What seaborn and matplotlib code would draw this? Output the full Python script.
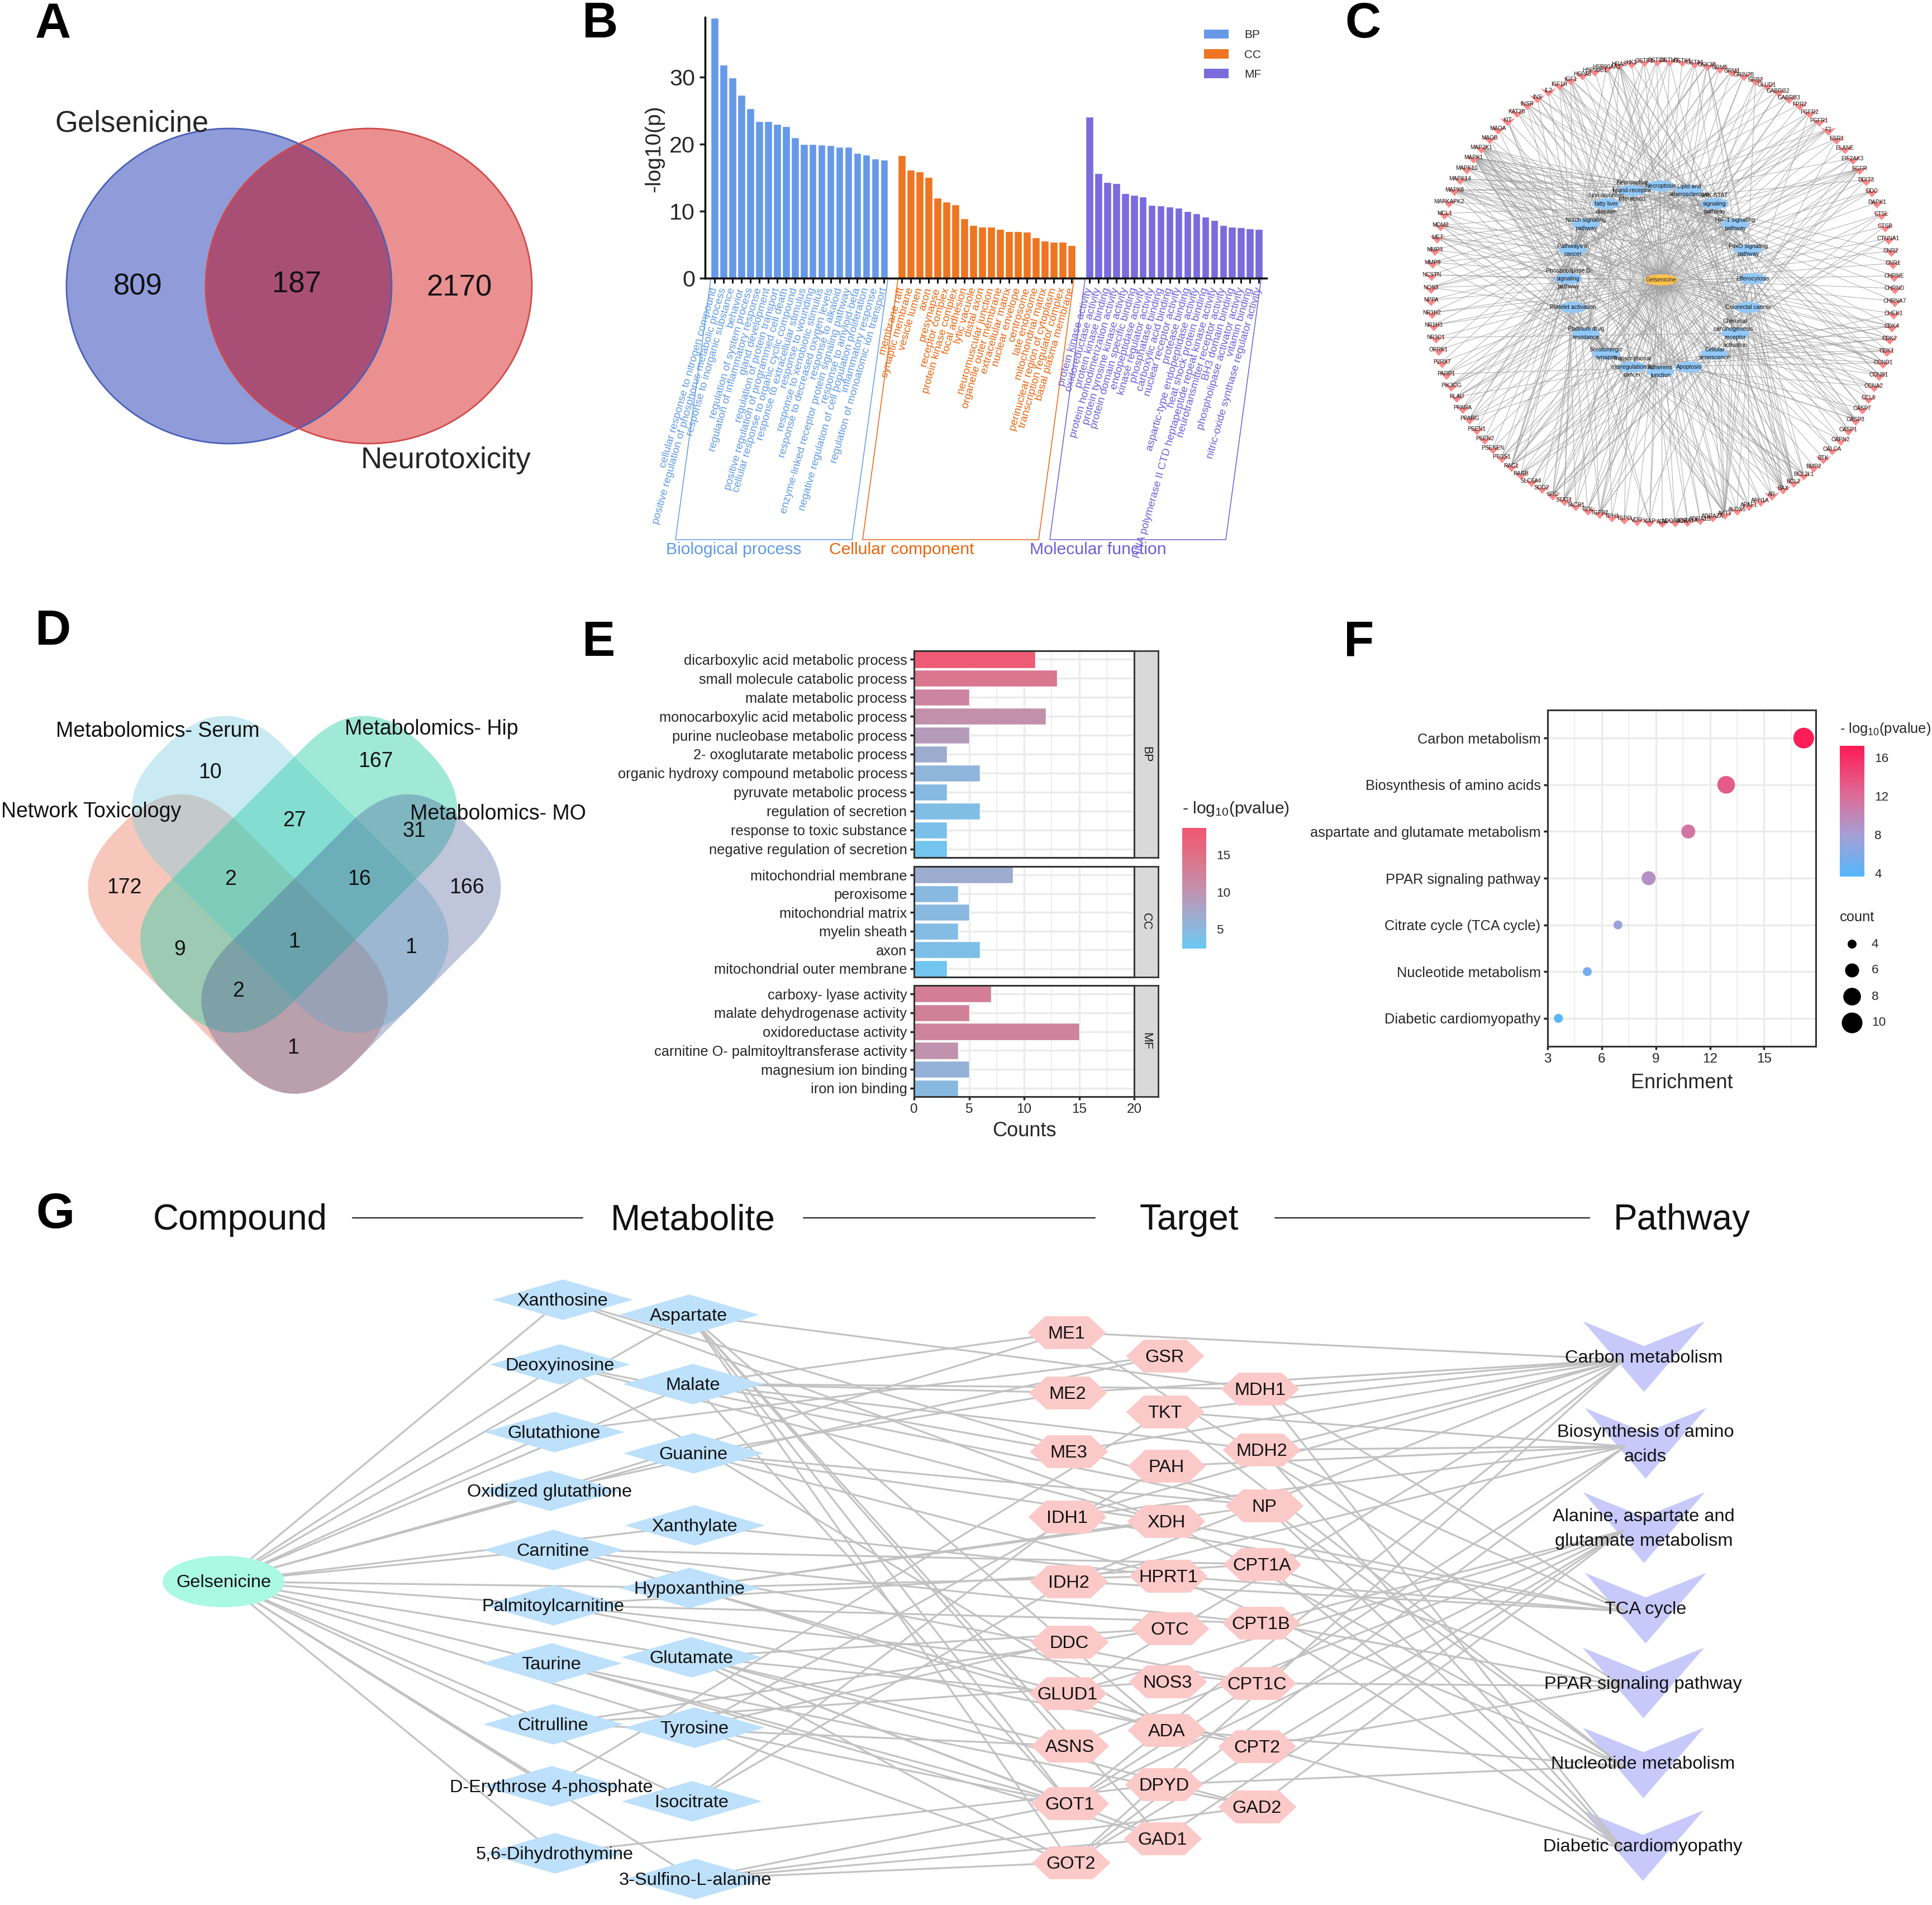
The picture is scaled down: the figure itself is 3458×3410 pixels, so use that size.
import numpy as np
import pandas as pd
import matplotlib
matplotlib.use("Agg")
import matplotlib.pyplot as plt
import seaborn as sns
from matplotlib.cm import ScalarMappable
from matplotlib.collections import LineCollection
from matplotlib.colors import LinearSegmentedColormap, Normalize
from matplotlib.patches import Ellipse, FancyBboxPatch, Patch
from matplotlib.path import Path
from matplotlib.ticker import MultipleLocator
from matplotlib.transforms import Affine2D

W, H = 3458, 3410

# panel A
VENN_A_COUNTS = ["809", "187", "2170"]

# panel B
BP_TERMS = ["cellular response to nitrogen compound", "positive regulation of phosphorus metabolic process",
            "response to inorganic substance", "behavior", "regulation of system process",
            "regulation of inflammatory response", "gland development", "regulation of protein transport",
            "positive regulation of programmed cell death", "cellular response to organic cyclic compound",
            "response to extracellular stimulus", "response to wounding", "response to xenobiotic stimulus",
            "response to decreased oxygen levels", "response to alkaloid",
            "enzyme-linked receptor protein signaling pathway", "response to amyloid-beta",
            "negative regulation of cell population proliferation", "inflammatory response",
            "regulation of monoatomic ion transport"]
BP_VALUES = [38.8, 31.8, 29.9, 27.3, 25.3, 23.4, 23.4, 23.0, 22.7, 21.0,
             20.0, 20.0, 19.9, 19.8, 19.6, 19.6, 18.7, 18.4, 17.8, 17.7]
CC_TERMS = ["membrane raft", "synaptic membrane", "vesicle lumen", "axon", "presynapse", "receptor complex",
            "protein kinase complex", "focal adhesion", "lytic vacuole", "distal axon", "neuromuscular junction",
            "organelle outer membrane", "extracellular matrix", "nuclear envelope", "centrosome", "late endosome",
            "mitochondrial matrix", "perinuclear region of cytoplasm", "transcription regulator complex",
            "basal plasma membrane"]
CC_VALUES = [18.3, 16.2, 15.9, 15.1, 12.0, 11.4, 11.0, 8.9, 7.9, 7.7,
             7.7, 7.3, 7.0, 7.0, 6.9, 6.1, 5.6, 5.4, 5.4, 4.9]
MF_TERMS = ["protein kinase activity", "oxidoreductase activity", "protein kinase binding",
            "protein homodimerization activity", "protein tyrosine kinase activity",
            "protein domain specific binding", "endopeptidase activity", "kinase regulator activity",
            "phosphatase binding", "carboxylic acid binding", "nuclear receptor activity", "protease binding",
            "aspartic-type endopeptidase activity", "heat shock protein binding",
            "RNA polymerase II CTD heptapeptide repeat kinase activity", "neurotransmitter receptor activity",
            "BH3 domain binding", "phospholipase activator activity", "vitamin binding",
            "nitric-oxide synthase regulator activity"]
MF_VALUES = [24.1, 15.7, 14.3, 14.2, 12.7, 12.4, 12.2, 10.9, 10.8, 10.7,
             10.5, 10.0, 9.7, 9.2, 8.7, 7.9, 7.7, 7.6, 7.4, 7.3]

# panel C
C_GENES = ("ADA ADORA2A ADRA1A ADRA1B ADRA2A AKT1 ALOX5 APAF1 APH1A AR BAX BCL2 BCL2L1 BMP2 BTK CALCA CAPN2 CASP1 "
           "CASP3 CASP7 CCL5 CCNA2 CCNB1 CCND1 CDK1 CDK2 CDK4 CHEK1 CHRNA7 CHRND CHRNE CNR1 CNR2 CTNNA1 CTSB CTSL "
           "DAPK1 DDC DDIT3 EGFR EIF2AK3 ELANE ESR1 F2 FGFR1 FGFR2 FPR2 GABRB3 GABRG2 GLUD1 GRB2 GRIN2B GRM1 GRM5 "
           "GSK3B GSTA1 GSTK1 GSTM1 GSTO1 GSTP1 HK1 HRAS HSP90AA1 HSP90B1 HSPA8 IGF1 IGF1R IL2 INS INSR KAT2B KIT "
           "MAOA MAOB MAP2K1 MAPK1 MAPK10 MAPK14 MAPK8 MAPKAPK2 MCL1 MDM2 MET MMP3 MMP9 NCSTN NOS3 NPPA NR1H2 NR1H3 "
           "NR3C1 OPRK1 P2RX7 PARP1 PIK3CG PLAU PPARA PPARG PSEN1 PSEN2 PSENEN PTGS1 RAC1 RARB SLC6A4 SOD2 SRC "
           "STAT1 TACR1 TEK TGFB2 TPH1 TSPO VDR XIAP").split()
C_PATHWAYS = ["Necroptosis", "Lipid and\natherosclerosis", "JAK-STAT\nsignaling\npathway",
              "HIF-1 signaling\npathway", "FoxO signaling\npathway", "Efferocytosis", "Colorectal cancer",
              "Chemical\ncarcinogenesis -\nreceptor\nactivation", "Cellular\nsenescence", "Apoptosis",
              "Adherens\njunction", "Transcriptional\nmisregulation in\ncancer", "Serotonergic\nsynapse",
              "Platinum drug\nresistance", "Platelet activation", "Phospholipase D\nsignaling\npathway",
              "Pathways in\ncancer", "Notch signaling\npathway", "Non-alcoholic\nfatty liver\ndisease",
              "Neuroactive\nligand-receptor\ninteraction"]
C_LINKS = [
    "BAX BCL2 CAPN2 CASP1 GLUD1 HSP90AA1 MAPK1 MAPK8 MAPK10 MAPK14 PARP1 STAT1 XIAP TGFB2",
    "AKT1 BAX BCL2 CASP1 CASP3 CASP7 CCL5 GSK3B HSP90AA1 HSPA8 MAPK1 MAPK14 MAPK8 MMP3 MMP9 NOS3 NR1H2 NR1H3 PPARA PPARG RAC1 SRC",
    "AKT1 BCL2 BCL2L1 CCND1 EGFR FGFR1 FGFR2 GRB2 HRAS IL2 MCL1 MDM2 MET MAP2K1 MAPK1 PARP1 PIK3CG RAC1 SRC STAT1 TEK",
    "AKT1 BCL2 CCNB1 CDK1 EGFR EIF2AK3 HK1 IGF1 IGF1R INS INSR MAP2K1 MAPK1 MAPKAPK2 NOS3 NPPA PLAU STAT1 TEK",
    "AKT1 BCL2L1 CCNB1 CCND1 CDK2 CDK4 EGFR GRB2 GSK3B HRAS IGF1 IGF1R INS INSR KAT2B MAP2K1 MAPK1 MAPK10 MAPK14 MAPK8 MDM2 PIK3CG PLAU STAT1 TGFB2",
    "ADORA2A ALOX5 BAX BCL2 CASP3 CASP7 CTSL GSK3B MAPK1 MAPK14 MAPK8 NR1H2 NR1H3 PPARG PTGS1 RAC1 SRC",
    "AKT1 APAF1 BAX BCL2 CASP3 CCND1 CDK1 CTNNA1 EGFR GSK3B HRAS IGF1R MAP2K1 MAPK1 MAPK8 MET RAC1 RARB TGFB2",
    "AKT1 AR BAX BCL2 CDK1 CDK2 CDK4 CCNA2 CCNB1 CCND1 EGFR ESR1 FGFR2 GSTA1 GSTM1 GSTO1 GSTP1 HRAS HSP90AA1 MAP2K1 MAPK1 NR3C1 SRC VDR",
    "AKT1 BAX CCNA2 CCNB1 CCND1 CDK1 CDK2 CDK4 CHEK1 HRAS IGF1 IGF1R MAP2K1 MAPK1 MAPK14 MDM2 SRC TGFB2 RARB",
    "AKT1 APAF1 BAX BCL2 BCL2L1 CAPN2 CASP3 CASP7 CTSB CTSL DDIT3 EIF2AK3 HRAS MAP2K1 MAPK1 MAPK8 MCL1 PARP1 XIAP",
    "CTNNA1 EGFR FGFR1 IGF1R INSR MAPK1 MET RAC1 SRC TGFB2 TEK",
    "BCL2L1 CCNA2 CDK1 CDK2 CDK4 CCND1 GRIN2B IGF1 IGF1R MCL1 MDM2 MET MMP3 MMP9 PLAU PPARG RARB SLC6A4 TGFB2",
    "ALOX5 DDC GABRB3 GABRG2 HRAS KIT MAOA MAOB MAP2K1 MAPK1 PTGS1 RAC1 SLC6A4 TPH1",
    "AKT1 APAF1 BAX BCL2 BCL2L1 CASP3 GSTA1 GSTM1 GSTO1 GSTP1 MAPK1 MAP2K1 MAPK8 MDM2 SRC XIAP",
    "AKT1 APAF1 F2 MAPK1 MAPK14 NOS3 PIK3CG PTGS1 RAC1 SRC STAT1 TEK",
    "AKT1 DDC EGFR F2 GRM1 GRM5 HRAS INS INSR KIT MAP2K1 MAPK1 MET NCSTN PIK3CG PLAU RAC1 TACR1",
    "AKT1 AR BAX BCL2 BCL2L1 CASP3 CCND1 CDK2 CDK4 EGFR ESR1 F2 FGFR1 FGFR2 GSK3B GSTA1 GSTM1 GSTO1 GSTP1 HRAS HSP90AA1 IGF1 IGF1R IL2 KIT MAP2K1 MAPK1 MAPK10 MAPK8 MDM2 MET MMP9 NOS3 PPARG PTGS1 RAC1 RARB STAT1 TGFB2 XIAP",
    "APH1A GSK3B KAT2B MAPK1 MAPK8 NCSTN PSEN1 PSEN2 PSENEN RAC1 SRC TGFB2",
    "AKT1 BAX CASP3 DDIT3 EIF2AK3 GSK3B IGF1 INS INSR MAPK1 MAPK10 MAPK14 MAPK8 MAP2K1 PPARA PPARG RAC1 SOD2",
    "ADORA2A ADRA1A ADRA1B ADRA2A CHRNA7 CHRND CHRNE CNR1 CNR2 F2 FPR2 GABRB3 GABRG2 GRIN2B GRM1 GRM5 OPRK1 P2RX7 TACR1 TSPO CALCA",
]

# panel D
VENN_D_COUNTS = ["10", "167", "27", "31", "172", "2", "16", "166", "1", "9", "1", "2", "1"]
VENN_D_SETS = ["Metabolomics- Serum", "Metabolomics- Hip", "Network Toxicology", "Metabolomics- MO"]

# panel E
E_TERMS = {
    "BP": ["dicarboxylic acid metabolic process", "small molecule catabolic process", "malate metabolic process",
           "monocarboxylic acid metabolic process", "purine nucleobase metabolic process",
           "2- oxoglutarate metabolic process", "organic hydroxy compound metabolic process",
           "pyruvate metabolic process", "regulation of secretion", "response to toxic substance",
           "negative regulation of secretion"],
    "CC": ["mitochondrial membrane", "peroxisome", "mitochondrial matrix", "myelin sheath", "axon",
           "mitochondrial outer membrane"],
    "MF": ["carboxy- lyase activity", "malate dehydrogenase activity", "oxidoreductase activity",
           "carnitine O- palmitoyltransferase activity", "magnesium ion binding", "iron ion binding"],
}
E_COUNTS = {"BP": [11, 13, 5, 12, 5, 3, 6, 3, 6, 3, 3], "CC": [9, 4, 5, 4, 6, 3], "MF": [7, 5, 15, 4, 5, 4]}
E_LOGP = {"BP": [17.8, 14.0, 12.0, 10.5, 9.0, 6.8, 5.6, 4.6, 4.2, 3.8, 3.2],
          "CC": [6.8, 5.0, 5.0, 4.5, 4.0, 3.0], "MF": [13.0, 12.6, 12.2, 10.2, 6.0, 5.0]}

# panel F
F_TERMS = ["Carbon metabolism", "Biosynthesis of amino acids", "aspartate and glutamate metabolism",
           "PPAR signaling pathway", "Citrate cycle (TCA cycle)", "Nucleotide metabolism", "Diabetic cardiomyopathy"]
F_ENRICH = [17.2, 12.9, 10.8, 8.6, 6.9, 5.2, 3.6]
F_LOGP = [17.0, 13.2, 11.4, 9.2, 7.4, 5.5, 3.8]
F_COUNT = [10, 8, 6, 6, 4, 4, 4]

# panel G
G_COLUMNS = ["Compound", "Metabolite", "Target", "Pathway"]
G_MET_1 = ["Xanthosine", "Deoxyinosine", "Glutathione", "Oxidized glutathione", "Carnitine", "Palmitoylcarnitine",
           "Taurine", "Citrulline", "D-Erythrose 4-phosphate", "5,6-Dihydrothymine"]
G_MET_2 = ["Aspartate", "Malate", "Guanine", "Xanthylate", "Hypoxanthine", "Glutamate", "Tyrosine", "Isocitrate",
           "3-Sulfino-L-alanine"]
G_TAR_1 = ["ME1", "ME2", "ME3", "IDH1", "IDH2", "DDC", "GLUD1", "ASNS", "GOT1", "GOT2"]
G_TAR_2 = ["GSR", "TKT", "PAH", "XDH", "HPRT1", "OTC", "NOS3", "ADA", "DPYD", "GAD1"]
G_TAR_3 = ["MDH1", "MDH2", "NP", "CPT1A", "CPT1B", "CPT1C", "CPT2", "GAD2"]
G_PATHWAYS = ["Carbon metabolism", "Biosynthesis of amino\nacids", "Alanine, aspartate and\nglutamate metabolism",
              "TCA cycle", "PPAR signaling pathway", "Nucleotide metabolism", "Diabetic cardiomyopathy"]
G_MET_TARGETS = {
    "Xanthosine": "NP XDH", "Deoxyinosine": "NP ADA XDH", "Glutathione": "GSR", "Oxidized glutathione": "GSR ME1",
    "Carnitine": "CPT1A CPT1B CPT1C CPT2", "Palmitoylcarnitine": "CPT1A CPT1B CPT1C CPT2", "Taurine": "GAD1 GAD2 GOT1",
    "Citrulline": "OTC NOS3 ASNS", "D-Erythrose 4-phosphate": "TKT", "5,6-Dihydrothymine": "DPYD",
    "Aspartate": "ASNS GOT1 GOT2 ADA GAD1 MDH1", "Malate": "ME1 ME2 ME3 MDH1 MDH2 GOT1", "Guanine": "NP HPRT1 ME2 XDH",
    "Xanthylate": "HPRT1", "Hypoxanthine": "HPRT1 XDH NP ADA", "Glutamate": "GLUD1 GOT1 GOT2 GAD1 GAD2 ASNS OTC",
    "Tyrosine": "DDC PAH GOT1 GOT2", "Isocitrate": "IDH1 IDH2", "3-Sulfino-L-alanine": "GOT1 GOT2 GAD1 GAD2",
}
G_PATH_TARGETS = {
    "Carbon metabolism": "ME1 ME2 ME3 MDH1 MDH2 IDH1 IDH2 TKT GOT1 GOT2 GLUD1",
    "Biosynthesis of amino\nacids": "IDH1 IDH2 TKT PAH GOT1 GOT2 MDH2",
    "Alanine, aspartate and\nglutamate metabolism": "ASNS GOT1 GOT2 GAD1 GAD2 GLUD1 CPT1B",
    "TCA cycle": "MDH1 MDH2 IDH1 IDH2 XDH HPRT1",
    "PPAR signaling pathway": "CPT1A CPT1B CPT1C CPT2 ME1",
    "Nucleotide metabolism": "NP ADA HPRT1 XDH DPYD TKT",
    "Diabetic cardiomyopathy": "MDH1 MDH2 CPT1A CPT1B CPT2 NP",
}

# node layout of panel G in figure pixels, same order as the name lists
G_Y0 = 2250
G_MET_1_XY = [(1007, 76), (1002, 192), (992, 313), (984, 418), (990, 524), (990, 623), (987, 727), (990, 836),
              (987, 947), (993, 1067)]
G_MET_2_XY = [(1233, 103), (1240, 227), (1241, 351), (1243, 480), (1234, 592), (1237, 716), (1243, 842), (1238, 974),
              (1244, 1113)]
G_TAR_1_XY = [(1909, 135), (1911, 243), (1913, 348), (1910, 465), (1913, 581), (1914, 689), (1911, 781), (1915, 875),
              (1915, 978), (1917, 1084)]
G_TAR_2_XY = [(2085, 177), (2085, 277), (2088, 374), (2087, 473), (2091, 571), (2094, 665), (2090, 760), (2088, 847),
              (2083, 944), (2081, 1041)]
G_TAR_3_XY = [(2255, 236), (2258, 345), (2263, 445), (2259, 550), (2257, 655), (2250, 763), (2250, 876), (2250, 984)]
G_PATH_XY = [(2942, 178), (2945, 333), (2942, 484), (2945, 628), (2941, 762), (2941, 905), (2940, 1053)]

sns.set_theme(style="ticks")
plt.rcParams["font.family"] = ["Liberation Sans", "DejaVu Sans"]
plt.rcParams["mathtext.default"] = "regular"


def px_axes(fig, x0, y0, x1, y1):
    return fig.add_axes([x0 / W, 1 - y1 / H, (x1 - x0) / W, (y1 - y0) / H])


def marker_size(width_px):
    return (width_px * 0.72) ** 2


fig = plt.figure(figsize=(W / 100, H / 100), dpi=100, facecolor="white")
ov = fig.add_axes([0, 0, 1, 1], zorder=0)
ov.set_xlim(0, W)
ov.set_ylim(H, 0)
ov.axis("off")

for letter, x, y in [("A", 95, 68), ("B", 1074, 67), ("C", 2439, 67), ("D", 95, 1154), ("E", 1072, 1174),
                     ("F", 2432, 1174), ("G", 99, 2198)]:
    ov.text(x, y, letter, fontsize=64, fontweight="bold", ha="center", va="baseline", color="black")

# ---- A: two set venn
blue = Ellipse((410, 512), 582, 564, fc="#5568c6", ec="none", alpha=0.65, zorder=1)
red = Ellipse((660, 512), 584, 564, fc="#e05555", ec="none", alpha=0.65, zorder=2)
ov.add_patch(blue)
ov.add_patch(red)
both = Ellipse((660, 512), 584, 564, fc="#a94f76", ec="none", zorder=3)
ov.add_patch(both)
both.set_clip_path(Ellipse((410, 512), 582, 564, transform=ov.transData))
ov.add_patch(Ellipse((410, 512), 582, 564, fc="none", ec="#4a5fb8", lw=2, zorder=4))
ov.add_patch(Ellipse((660, 512), 584, 564, fc="none", ec="#cf4a4a", lw=2, zorder=4))
for label, x, y in zip(VENN_A_COUNTS, [247, 531, 822], [513, 509, 515]):
    ov.text(x, y, label, fontsize=38, ha="center", va="center", color="#111111", zorder=5)
ov.text(236, 222, "Gelsenicine", fontsize=38, ha="center", va="center", zorder=5)
ov.text(798, 824, "Neurotoxicity", fontsize=38, ha="center", va="center", zorder=5)

# ---- B: GO enrichment bars
groups = [("BP", BP_TERMS, BP_VALUES, "#6699e8"), ("CC", CC_TERMS, CC_VALUES, "#ee7521"),
          ("MF", MF_TERMS, MF_VALUES, "#7b6bdc")]
frames = []
for k, (name, terms, values, _) in enumerate(groups):
    frames.append(pd.DataFrame({"pos": np.arange(len(terms)) + k * 21, "value": values, "group": name, "term": terms}))
go = pd.concat(frames, ignore_index=True)
ax_b = px_axes(fig, 1262, 31.5, 2267, 498)
ax_b.patch.set_alpha(0)
sns.barplot(data=go, x="pos", y="value", hue="group", palette={g[0]: g[3] for g in groups}, native_scale=True,
            dodge=False, width=0.86, saturation=1, legend=False, ax=ax_b)
ax_b.set_xlim(-1.06, 61.86)
ax_b.set_ylim(0, 38.87)
ax_b.set_yticks([0, 10, 20, 30])
ax_b.set_xticks(go["pos"])
ax_b.set_xticklabels(go["term"], rotation=74, ha="right", va="center", rotation_mode="anchor", fontsize=13.8)
label_colors = {"BP": "#5f9ae6", "CC": "#e8650f", "MF": "#6a5fd8"}
for tick, name in zip(ax_b.get_xticklabels(), go["group"]):
    tick.set_color(label_colors[name])
ax_b.tick_params(axis="x", length=6.5, width=2, pad=6, color="black")
ax_b.tick_params(axis="y", length=7, width=2.5, pad=6, labelsize=29.7)
ax_b.set_xlabel("")
ax_b.set_ylabel("-log10(p)", fontsize=28)
ax_b.yaxis.set_label_coords(-0.072, 0.497)
sns.despine(ax=ax_b)
for side in ["left", "bottom"]:
    ax_b.spines[side].set_linewidth(2.5)
    ax_b.spines[side].set_color("black")

fig.legend(handles=[Patch(fc=g[3], ec="none", label=g[0]) for g in groups], loc="upper left",
           bbox_to_anchor=(2155 / W, 1 - 53 / H), frameon=False, borderpad=0, borderaxespad=0,
           prop={"size": 15}, handlelength=2.1, handleheight=0.84, labelspacing=0.75, handletextpad=1.35)

brackets = [((1272, 501), (1209, 966), (1525, 966), (1589, 501), "BP", "Biological process", 1192),
            ((1607, 501), (1544, 966), (1859, 966), (1922, 501), "CC", "Cellular component", 1484),
            ((1942, 501), (1879, 966), (2194, 966), (2257, 501), "MF", "Molecular function", 1843)]
for p0, p1, p2, p3, name, title, tx in brackets:
    xs, ys = zip(p0, p1, p2, p3)
    ov.plot(xs, ys, color=label_colors[name], lw=1.1, zorder=2)
    ov.text(tx, 984, title, color=label_colors[name], fontsize=21.7, ha="left", va="center")

# ---- C: ring network
ring_cx, ring_cy, ring_rx, ring_ry = 2976, 521, 415, 413
step = 360 / len(C_GENES)
start = C_GENES.index("NOS3")
gene_xy = {}
for i, gene in enumerate(C_GENES):
    ang = np.deg2rad(89.1 + (i - start) * step)
    gene_xy[gene] = (ring_cx - ring_rx * np.sin(ang), ring_cy - ring_ry * np.cos(ang))
path_cx, path_cy, path_rx, path_ry = 2972, 499, 165, 166
path_xy = []
for i in range(len(C_PATHWAYS)):
    ang = np.deg2rad(i * 360 / len(C_PATHWAYS))
    path_xy.append((path_cx + path_rx * np.sin(ang), path_cy - path_ry * np.cos(ang)))
center_xy = (2973.5, 501)
c_segments = [[gene_xy[g], center_xy] for g in C_GENES]
c_segments += [[p, center_xy] for p in path_xy]
for p, genes in zip(path_xy, C_LINKS):
    c_segments += [[gene_xy[g], p] for g in genes.split()]
ov.add_collection(LineCollection(c_segments, colors="#9a9a9a", linewidths=0.7, alpha=0.85, zorder=2))

chevron_small = Path([(-1, 0.54), (0, 0.16), (1, 0.54), (0, -0.54), (-1, 0.54)], closed=True)
gx, gy = zip(*gene_xy.values())
ov.scatter(gx, np.array(gy) + 3, s=marker_size(28), marker=chevron_small, color="#fd8a8a", linewidths=0, zorder=3)
for gene, (x, y) in gene_xy.items():
    ov.text(x, y, gene, fontsize=7.2, ha="center", va="center", color="#111111", zorder=5)

for x, y in path_xy:
    ov.add_patch(Ellipse((x, y), 50, 20, fc="#92c8f8", ec="none", zorder=4))
for label, (x, y) in zip(C_PATHWAYS, path_xy):
    ov.text(x, y, label, fontsize=7.6, ha="center", va="center", linespacing=1.55, color="#111111", zorder=5)
ov.add_patch(Ellipse(center_xy, 60, 20, fc="#fdc24f", ec="none", zorder=4))
ov.text(center_xy[0], center_xy[1], "Gelsenicine", fontsize=7.6, ha="center", va="center", zorder=5)

# ---- D: four set venn made of rotated rounded bars
vc_x, vc_y, u = 527, 1682, 2.205
s = u / np.sqrt(2)
rot = Affine2D.from_values(s, s, s, -s, vc_x, vc_y) + ov.transData
bands = [((-165, -105), 270, 140, "#ec7a5e", 0.42), ((-185, -35), 290, 140, "#7fcfe0", 0.42),
         ((-105, -105), 140, 290, "#2fcfa8", 0.45), ((-35, -105), 140, 270, "#3f4f90", 0.33)]
for (a0, b0), wa, wb, col, alp in bands:
    r = 66
    ov.add_patch(FancyBboxPatch((a0 + r, b0 + r), wa - 2 * r, wb - 2 * r, boxstyle=f"round,pad={r},rounding_size={r}",
                                transform=rot, fc=col, ec="none", alpha=alp, zorder=1))
count_xy = [(376, 1383), (672, 1363), (527, 1469), (741, 1488), (222, 1589), (413, 1574), (643, 1574), (835, 1589),
            (527, 1686), (322, 1700), (736, 1696), (427, 1774), (525, 1876)]
for label, (x, y) in zip(VENN_D_COUNTS, count_xy):
    ov.text(x, y, label, fontsize=27, ha="center", va="center", color="#111111", zorder=3)
for label, (x, y) in zip(VENN_D_SETS, [(282, 1309), (772, 1305), (163, 1453), (891, 1457)]):
    ov.text(x, y, label, fontsize=27, ha="center", va="center", color="#111111", zorder=3)

# ---- E: GO bars by ontology
e_norm = Normalize(2.4, 18.6)
e_cmap = LinearSegmentedColormap.from_list("e", [(0, "#6ac8f4"), (0.16, "#8ab9e0"), (0.47, "#c093b0"), (0.78, "#e06f85"),
                                                 (1, "#f0566f")])
facets = [("BP", 1165, 1535), ("CC", 1551, 1749), ("MF", 1764, 1963)]
for name, y0, y1 in facets:
    ax = px_axes(fig, 1636, y0, 2030, y1)
    sub = pd.DataFrame({"term": E_TERMS[name], "count": E_COUNTS[name], "logp": E_LOGP[name]})
    colors = [e_cmap(e_norm(v)) for v in sub["logp"]]
    sns.barplot(data=sub, y="term", x="count", hue="term", palette=colors, dodge=False, width=0.9, saturation=1,
                legend=False, ax=ax)
    ax.set_xlim(0, 20)
    ax.set_ylim(len(sub) - 0.55, -0.45)
    ax.set_xlabel("")
    ax.set_ylabel("")
    ax.xaxis.set_major_locator(MultipleLocator(5))
    ax.xaxis.set_minor_locator(MultipleLocator(2.5))
    ax.set_axisbelow(True)
    ax.grid(True, which="major", color="#ebebeb", lw=2.4)
    ax.grid(True, which="minor", axis="x", color="#ebebeb", lw=1.2)
    ax.tick_params(axis="x", which="minor", length=0)
    ax.tick_params(axis="y", length=5, width=2.5, pad=4, labelsize=18.3)
    if name == "MF":
        ax.tick_params(axis="x", length=4.5, width=2.5, pad=4, labelsize=17.5)
        ax.set_xlabel("Counts", fontsize=26, labelpad=7)
    else:
        ax.tick_params(axis="x", which="both", length=0, labelbottom=False)
    for side in ax.spines.values():
        side.set_linewidth(2.2)
        side.set_color("#333333")
        side.set_visible(True)
    strip = px_axes(fig, 2030, y0, 2073, y1)
    strip.set_facecolor("#d9d9d9")
    strip.set_xticks([])
    strip.set_yticks([])
    for side in strip.spines.values():
        side.set_linewidth(2.0)
        side.set_color("#333333")
    strip.text(0.5, 0.5, name, rotation=270, ha="center", va="center", transform=strip.transAxes,
               fontsize=15.5, color="#1a1a1a")

cax_e = px_axes(fig, 2116, 1482, 2159, 1698)
cb_e = fig.colorbar(ScalarMappable(e_norm, e_cmap), cax=cax_e)
cb_e.set_ticks([5, 10, 15])
cb_e.outline.set_visible(False)
cax_e.tick_params(axis="y", left=True, right=True, labelleft=False, labelright=True, direction="in", length=6,
                  width=1.4, color="white", pad=13, labelsize=16.2)
ov.text(2116, 1448, "- log$_{10}$(pvalue)", fontsize=21.7, ha="left", va="center")

# ---- F: pathway bubble plot
f_norm = Normalize(3.68, 17.24)
f_cmap = LinearSegmentedColormap.from_list("f", [(0, "#55b7fb"), (0.32, "#a59fd6"), (0.62, "#dd6c97"), (1, "#ff1a55")])
bub = pd.DataFrame({"term": F_TERMS, "enrich": F_ENRICH, "logp": F_LOGP, "count": F_COUNT})
ax_f = px_axes(fig, 2770, 1271, 3250, 1873)
sns.scatterplot(data=bub, x="enrich", y="term", hue="logp", hue_norm=f_norm, palette=f_cmap, size="count",
                size_norm=(4, 10), sizes=(marker_size(16), marker_size(37)), linewidth=0, legend=False, ax=ax_f)
ax_f.set_xlim(3, 17.87)
ax_f.set_ylim(6.6, -0.6)
ax_f.set_xticks([3, 6, 9, 12, 15])
ax_f.xaxis.set_minor_locator(MultipleLocator(1.5))
ax_f.set_axisbelow(True)
ax_f.grid(True, which="major", color="#ebebeb", lw=2.4)
ax_f.grid(True, which="minor", axis="x", color="#ebebeb", lw=1.2)
ax_f.tick_params(axis="x", which="minor", length=0)
ax_f.tick_params(axis="x", which="major", length=4.5, width=2.5, pad=4, labelsize=17.5)
ax_f.tick_params(axis="y", which="major", length=5, width=2.5, pad=4, labelsize=18.3)
ax_f.set_ylabel("")
ax_f.set_xlabel("Enrichment", fontsize=26, labelpad=10)
for side in ax_f.spines.values():
    side.set_linewidth(2.2)
    side.set_color("#333333")

cax_f = px_axes(fig, 3293, 1335, 3337, 1569)
cb_f = fig.colorbar(ScalarMappable(f_norm, f_cmap), cax=cax_f)
cb_f.set_ticks([4, 8, 12, 16])
cb_f.outline.set_visible(False)
cax_f.tick_params(axis="y", left=True, right=True, labelleft=False, labelright=True, direction="in", length=6,
                  width=1.4, color="white", pad=13, labelsize=16.2)
ov.text(3293, 1305, "- log$_{10}$(pvalue)", fontsize=18.4, ha="left", va="center")
ov.text(3293, 1642, "count", fontsize=18.4, ha="left", va="center")
legend_counts = [4, 6, 8, 10]
legend_y = [1690, 1737, 1784, 1831]
legend_sizes = [marker_size(16) + (c - 4) / 6 * (marker_size(37) - marker_size(16)) for c in legend_counts]
ov.scatter([3315] * 4, legend_y, s=legend_sizes, color="black", linewidths=0, zorder=3)
for c, y in zip(legend_counts, legend_y):
    ov.text(3350, y, str(c), fontsize=16.2, ha="left", va="center")

# ---- G: compound, metabolite, target, pathway network
for label, x in zip(G_COLUMNS, [430, 1240, 2128, 3010]):
    ov.text(x, 2184, label, fontsize=46, ha="center", va="center", color="#111111")
for x0, x1 in [(631, 1043), (1438, 1960), (2282, 2845)]:
    ov.plot([x0, x1], [2180, 2180], color="#222222", lw=1.6)

met_xy = {n: (x, y + G_Y0) for n, (x, y) in zip(G_MET_1 + G_MET_2, G_MET_1_XY + G_MET_2_XY)}
tar_xy = {n: (x, y + G_Y0) for n, (x, y) in zip(G_TAR_1 + G_TAR_2 + G_TAR_3, G_TAR_1_XY + G_TAR_2_XY + G_TAR_3_XY)}
pat_xy = {n: (x, y + G_Y0) for n, (x, y) in zip(G_PATHWAYS, G_PATH_XY)}
gel_xy = (400, 2831)
g_segments = [[gel_xy, p] for p in met_xy.values()]
for met, targets in G_MET_TARGETS.items():
    g_segments += [[met_xy[met], tar_xy[t]] for t in targets.split()]
for path, targets in G_PATH_TARGETS.items():
    px0, py0 = pat_xy[path]
    g_segments += [[tar_xy[t], (px0 - 36, py0 + 6)] for t in targets.split()]

chevron = Path([(-1, 0.58), (0, 0.175), (1, 0.58), (0, -0.58), (-1, 0.58)], closed=True)
diamond = Path([(-1, 0), (0, 0.289), (1, 0), (0, -0.289), (-1, 0)], closed=True)
hexagon = Path([(-1, 0), (-0.55, 0.42), (0.55, 0.42), (1, 0), (0.55, -0.42), (-0.55, -0.42), (-1, 0)], closed=True)

ov.scatter(*zip(*pat_xy.values()), s=marker_size(218), marker=chevron, color="#c7c9fb", linewidths=0, zorder=1)
ov.add_collection(LineCollection(g_segments, colors="#c2c2c2", linewidths=2.3, zorder=2))
ov.scatter(*zip(*met_xy.values()), s=marker_size(251), marker=diamond, color="#bde0fb", linewidths=0, zorder=3)
ov.scatter(*zip(*tar_xy.values()), s=marker_size(140), marker=hexagon, color="#fcc9c9", linewidths=0, zorder=3)
ov.add_patch(Ellipse(gel_xy, 218, 92, fc="#aaf9e3", ec="none", zorder=3))
for label, (x, y) in list(met_xy.items()) + list(tar_xy.items()) + list(pat_xy.items()):
    ov.text(x, y + 3, label, fontsize=23.4, ha="center", va="center", linespacing=1.58, color="#111111", zorder=5)
ov.text(gel_xy[0], gel_xy[1] + 2, "Gelsenicine", fontsize=23.4, ha="center", va="center", color="#111111", zorder=5)

fig.savefig("out.png", dpi=100, facecolor="white")
